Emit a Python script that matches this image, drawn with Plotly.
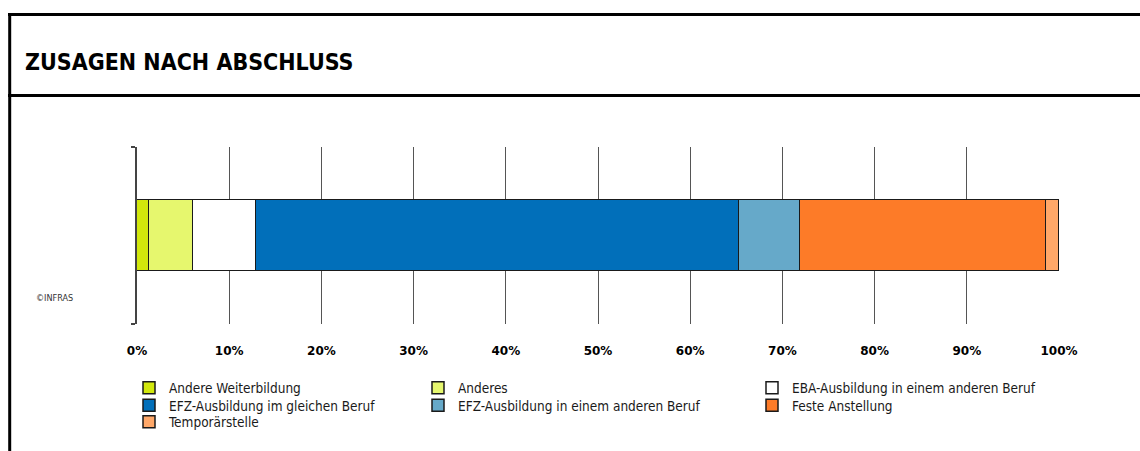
import plotly.graph_objects as go

# Share of apprentices by commitment after graduation (percent)
categories = [
    "Andere Weiterbildung",
    "Anderes",
    "EBA-Ausbildung in einem anderen Beruf",
    "EFZ-Ausbildung im gleichen Beruf",
    "EFZ-Ausbildung in einem anderen Beruf",
    "Feste Anstellung",
    "Temporärstelle",
]
shares = [1.3, 4.8, 6.8, 52.4, 6.6, 26.7, 1.4]
colors = ["#d2e80c", "#e6f76e", "#ffffff", "#016fba", "#66a9c9", "#fd7b28", "#ffa869"]
tick_values = [0, 10, 20, 30, 40, 50, 60, 70, 80, 90, 100]
tick_labels = [f"{v}%" for v in tick_values]

W, H = 1140, 451
ML, MR, MT, MB = 137, 81, 147, 127
PW, PH = W - ML - MR, H - MT - MB


def px_x(x):
    return (x - ML) / PW


def px_y(y):
    return (H - MB - y) / PH


fig = go.Figure()

# legend placement: three columns, items flow row by row
col_x = [129, 418, 752]
row_y = [388, 405.5, 422]
legend_layouts = {}
for i, (name, val, col) in enumerate(zip(categories, shares, colors)):
    lid = "legend" if i == 0 else f"legend{i + 1}"
    fig.add_trace(go.Bar(
        y=[0], x=[val], name=name, orientation="h", width=0.4,
        marker=dict(color=col, line=dict(color="#1a1a1a", width=1.5)),
        legend=lid, hoverinfo="name+x",
    ))
    legend_layouts[lid] = dict(
        x=px_x(col_x[i % 3]), y=px_y(row_y[i // 3]),
        xanchor="left", yanchor="middle", xref="paper", yref="paper",
        bgcolor="rgba(0,0,0,0)", itemwidth=30,
        font=dict(family="DejaVu Sans Condensed", size=13.5, color="#1a1a1a"),
    )

fig.update_layout(
    width=W, height=H,
    margin=dict(l=ML, r=MR, t=MT, b=MB, pad=0),
    paper_bgcolor="white", plot_bgcolor="white",
    barmode="stack", bargap=0,
    showlegend=True,
    title=dict(
        text="ZUSAGEN NACH ABSCHLUSS",
        x=25 / W, y=1 - 62 / H, xref="container", yref="container",
        xanchor="left", yanchor="middle",
        font=dict(family="DejaVu Sans Condensed", size=23, weight=700, color="#000"),
    ),
    xaxis=dict(
        range=[0, 100], tickvals=tick_values, ticktext=tick_labels,
        showgrid=True, gridcolor="#555", gridwidth=1, zeroline=False,
        showline=False, ticks="", ticklabelstandoff=18,
        tickfont=dict(family="DejaVu Sans", size=12, weight=700, color="#000"),
        fixedrange=True,
    ),
    yaxis=dict(
        range=[-0.5, 0.5], tickvals=[-0.5, 0.5], showticklabels=False,
        ticks="outside", ticklen=4, tickcolor="#444", tickwidth=1.5,
        showline=True, linecolor="#444", linewidth=1.5,
        showgrid=False, zeroline=False, fixedrange=True,
    ),
    **legend_layouts,
)

# frame around the chart panel and rule under the heading
frame = dict(color="#000", width=3)
fig.add_shape(type="line", xref="paper", yref="paper",
              x0=px_x(8), x1=px_x(W), y0=px_y(14.5), y1=px_y(14.5), line=frame)
fig.add_shape(type="line", xref="paper", yref="paper",
              x0=px_x(8), x1=px_x(W), y0=px_y(95.5), y1=px_y(95.5), line=frame)
fig.add_shape(type="line", xref="paper", yref="paper",
              x0=px_x(9.7), x1=px_x(9.7), y0=px_y(13), y1=px_y(H), line=frame)

fig.add_annotation(
    text="©INFRAS", xref="paper", yref="paper",
    x=px_x(34), y=px_y(298), xanchor="left", yanchor="middle",
    showarrow=False, font=dict(family="DejaVu Sans Condensed", size=9, color="#333"),
)

fig.write_html("out.html")
